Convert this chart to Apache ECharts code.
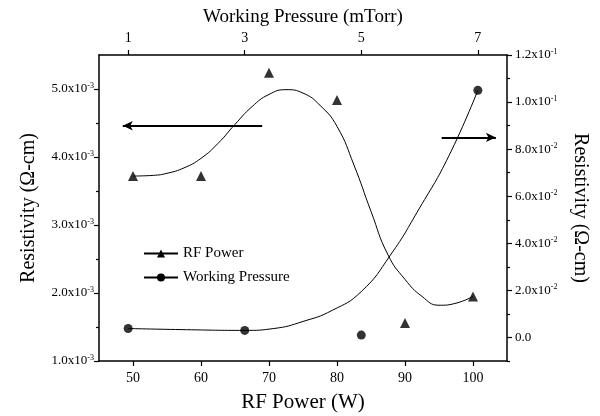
<!DOCTYPE html>
<html>
<head>
<meta charset="utf-8">
<script src="https://cdn.jsdelivr.net/npm/echarts@6.0.0/dist/echarts.min.js"></script>
<style>
  html, body { margin: 0; padding: 0; background: #fff; }
  #chart { width: 600px; height: 416px; }
</style>
</head>
<body>
<div id="chart"></div>
<script>
// RF power sweep: resistivity in units of 1e-3 ohm-cm
const rfPower = [50, 60, 70, 80, 90, 100];
const rfResistivity = [3.72, 3.72, 5.24, 4.84, 1.56, 1.95];
// fitted guide curve
const rfCurve = [
  [50, 3.72], [53, 3.73], [55, 3.76], [57.5, 3.84], [60, 3.98], [62.5, 4.2],
  [65, 4.48], [67.5, 4.74], [70, 4.92], [72.5, 4.99], [75, 4.94], [77.5, 4.76],
  [80, 4.45], [82.5, 3.88], [85, 3.2], [87.5, 2.56], [90, 2.2],
  [92.5, 1.95], [95, 1.82], [97.5, 1.85], [100, 1.95]
];

// working pressure sweep: resistivity in units of 1e-2 ohm-cm
const wpPressure = [1, 3, 5, 7];
const wpResistivity = [0.38, 0.3, 0.1, 10.5];
const wpCurve = [
  [1, 0.38], [2, 0.33], [3, 0.3], [3.5, 0.38], [4, 0.68], [4.5, 1.15],
  [5, 1.95], [5.5, 3.5], [6, 5.5], [6.5, 7.7], [7, 10.5]
];

const powerTicks = [50, 60, 70, 80, 90, 100];
const pressureTicks = [1, 3, 5, 7];
const leftTicks = [1, 2, 3, 4, 5];
const leftMinorTicks = [1.5, 2.5, 3.5, 4.5];
const rightTicks = [0, 2, 4, 6, 8, 10, 12];
const rightMinorTicks = [-1, 1, 3, 5, 7, 9, 11];

const serif = "Liberation Serif";
const rich = {
  m: { fontFamily: serif, fontSize: 13, color: "#000" },
  s: { fontFamily: serif, fontSize: 8, color: "#000", verticalAlign: "top", padding: [0, 0, 7, 0] }
};

function leftLabel(v) {
  return "{m|" + v.toFixed(1) + "x10}{s|-3}";
}
function rightLabel(v) {
  if (v === 0) return "{m|0.0}";
  if (v >= 10) return "{m|" + (v / 10).toFixed(1) + "x10}{s|-1}";
  return "{m|" + v.toFixed(1) + "x10}{s|-2}";
}

const axisLine = { show: true, onZero: false, lineStyle: { color: "#000", width: 1.5 } };
const tickStyle = { color: "#000", width: 1.2 };

const chart = echarts.init(document.getElementById("chart"));
chart.setOption({
  animation: false,
  backgroundColor: "#fff",
  grid: { left: 99, right: 93, top: 55, bottom: 55, outerBoundsMode: "none", containLabel: false },
  legend: {
    orient: "vertical",
    left: 138,
    top: 241,
    itemWidth: 34,
    itemHeight: 10,
    itemGap: 9,
    textStyle: { fontFamily: serif, fontSize: 15, color: "#000" },
    data: ["RF Power", "Working Pressure"]
  },
  xAxis: [
    {
      type: "value", position: "bottom", min: 45, max: 105,
      name: "RF Power (W)", nameLocation: "middle", nameGap: 31,
      nameTextStyle: { fontFamily: serif, fontSize: 21, color: "#000" },
      axisLine: axisLine,
      axisTick: { show: true, inside: false, length: 5, lineStyle: tickStyle, customValues: powerTicks },
      axisLabel: { fontFamily: serif, fontSize: 14, color: "#000", margin: 10, customValues: powerTicks },
      splitLine: { show: false }
    },
    {
      type: "value", position: "top", min: 0.5, max: 7.5,
      name: "Working Pressure (mTorr)", nameLocation: "middle", nameGap: 28,
      nameTextStyle: { fontFamily: serif, fontSize: 19, color: "#000" },
      axisLine: axisLine,
      axisTick: { show: true, inside: false, length: 5, lineStyle: tickStyle, customValues: pressureTicks },
      axisLabel: { fontFamily: serif, fontSize: 14, color: "#000", margin: 10, customValues: pressureTicks },
      splitLine: { show: false }
    }
  ],
  yAxis: [
    {
      type: "value", position: "left", min: 1, max: 5.5,
      name: "Resistivity (Ω-cm)", nameLocation: "middle", nameGap: 60,
      nameTextStyle: { fontFamily: serif, fontSize: 20, color: "#000" },
      axisLine: axisLine,
      axisTick: { show: true, inside: false, length: 5, lineStyle: tickStyle, customValues: leftTicks },
      axisLabel: { margin: 5, formatter: leftLabel, rich: rich, customValues: leftTicks },
      splitLine: { show: false }
    },
    {
      type: "value", position: "right", min: -1, max: 12,
      name: "Resistivity (Ω-cm)", nameLocation: "middle", nameGap: 63, nameRotate: -90,
      nameTextStyle: { fontFamily: serif, fontSize: 20, color: "#000" },
      axisLine: axisLine,
      axisTick: { show: true, inside: false, length: 5, lineStyle: tickStyle, customValues: rightTicks },
      axisLabel: { margin: 8, formatter: rightLabel, rich: rich, customValues: rightTicks },
      splitLine: { show: false }
    },
    {
      type: "value", position: "right", min: -1, max: 12,
      axisLine: { show: false, onZero: false },
      axisTick: { show: true, inside: false, length: 3, lineStyle: tickStyle, customValues: rightMinorTicks },
      axisLabel: { show: false, customValues: rightMinorTicks },
      splitLine: { show: false }
    },
    {
      type: "value", position: "left", min: 1, max: 5.5,
      axisLine: { show: false, onZero: false },
      axisTick: { show: true, inside: false, length: 3, lineStyle: tickStyle, customValues: leftMinorTicks },
      axisLabel: { show: false, customValues: leftMinorTicks },
      splitLine: { show: false }
    }
  ],
  series: [
    {
      name: "RF Power", type: "line", xAxisIndex: 0, yAxisIndex: 0,
      data: rfCurve, smooth: 0.5, showSymbol: false,
      symbol: "triangle", symbolSize: 10,
      itemStyle: { color: "#000" }, lineStyle: { color: "#000", width: 1 },
      markLine: {
        silent: true, symbol: ["none", "arrow"], symbolSize: [7, 10],
        label: { show: false },
        lineStyle: { color: "#000", width: 1.8, type: "solid" },
        data: [[{ coord: [69, 4.46] }, { coord: [48.5, 4.46] }]]
      }
    },
    {
      name: "RF Power", type: "scatter", xAxisIndex: 0, yAxisIndex: 0,
      data: rfPower.map((p, i) => [p, rfResistivity[i]]),
      symbol: "triangle", symbolSize: 10, itemStyle: { color: "#000" }
    },
    {
      name: "Working Pressure", type: "line", xAxisIndex: 1, yAxisIndex: 1,
      data: wpCurve, smooth: 0.5, showSymbol: false,
      symbol: "circle", symbolSize: 9,
      itemStyle: { color: "#000" }, lineStyle: { color: "#000", width: 1 },
      markLine: {
        silent: true, symbol: ["none", "arrow"], symbolSize: [7, 10],
        label: { show: false },
        lineStyle: { color: "#000", width: 1.8, type: "solid" },
        data: [[{ coord: [6.38, 8.5] }, { coord: [7.31, 8.5] }]]
      }
    },
    {
      name: "Working Pressure", type: "scatter", xAxisIndex: 1, yAxisIndex: 1,
      data: wpPressure.map((p, i) => [p, wpResistivity[i]]),
      symbol: "circle", symbolSize: 9, itemStyle: { color: "#000" }
    }
  ]
});
</script>
</body>
</html>
